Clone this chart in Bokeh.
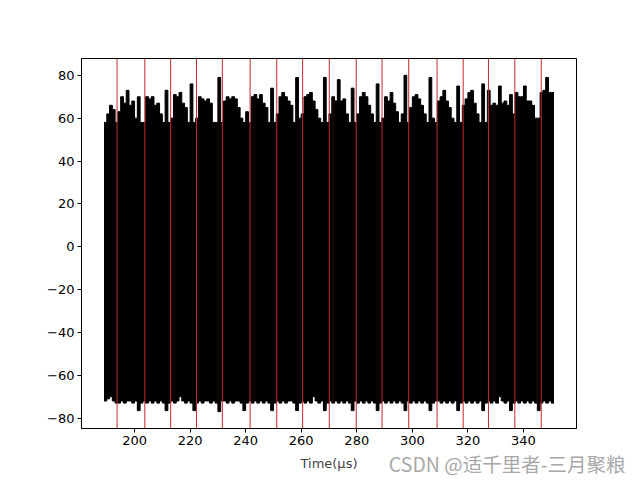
from bokeh.plotting import figure
from bokeh.models import Span, Title, Range1d, FixedTicker
from bokeh.embed import file_html
from bokeh.resources import INLINE

# ---- data ----
# time bins (µs), 1 µs apart, centre values
t_start = 189.5
upper = [58, 62, 66, 64, 58,
         63, 70, 67, 73, 66, 68, 60, 70, 58, 58,
         70, 69, 70, 66, 67, 62, 58, 73, 58,
         60, 71, 70, 72, 67, 65, 58, 76, 58,
         60, 70, 69, 68, 69, 67, 58, 58, 79, 58,
         68, 70, 69, 70, 69, 65, 60, 58, 63, 58,
         70, 71, 69, 71, 67, 65, 58, 74, 58,
         62, 70, 72, 70, 68, 66, 58, 79, 60,
         62, 70, 71, 72, 68, 64, 60, 58, 79, 58,
         62, 70, 68, 78, 68, 69, 62, 58, 74, 58,
         62, 70, 72, 70, 66, 62, 58, 76, 58,
         60, 70, 68, 72, 67, 63, 58, 62, 80, 58,
         65, 70, 71, 69, 66, 62, 58, 79, 60, 58,
         68, 70, 73, 68, 65, 60, 58, 75, 58,
         66, 69, 72, 73, 67, 62, 58, 76, 58,
         73, 66, 67, 66, 75, 67, 68, 66, 71, 62,
         72, 70, 70, 75, 68, 68, 66, 60, 60,
         72, 73, 79, 72, 72]
lower = [-72, -71, -70, -72, -73,
         -73, -72, -73, -72, -72, -73, -72, -76.5, -73, -72,
         -73, -72, -73, -72, -73, -72, -73, -76.5, -73,
         -72, -73, -72, -70, -72, -73, -72, -73, -76.5,
         -73, -72, -73, -72, -72, -73, -72, -73, -77, -72,
         -72, -73, -72, -73, -72, -72, -73, -76.5, -73, -72,
         -73, -72, -73, -72, -73, -72, -73, -76.5, -73,
         -72, -73, -72, -73, -72, -72, -73, -76.5, -73,
         -72, -73, -72, -73, -70, -72, -73, -72, -76.5, -73,
         -72, -73, -72, -73, -72, -73, -72, -73, -76.5, -72,
         -73, -72, -73, -72, -73, -72, -73, -76.5, -73,
         -72, -73, -72, -73, -72, -73, -72, -73, -76.5, -72,
         -73, -72, -73, -72, -73, -72, -73, -76.5, -73, -72,
         -72, -73, -72, -73, -72, -73, -72, -76.5, -73,
         -72, -73, -72, -73, -72, -73, -72, -76.5, -73,
         -72, -73, -72, -73, -70, -72, -73, -72, -76.5, -73,
         -72, -73, -72, -73, -72, -73, -72, -73, -76.5,
         -73, -72, -73, -72, -73]
times = [t_start + i for i in range(len(upper))]
assert len(upper) == len(lower)

red_lines = [193.7, 203.7, 213.0, 222.3, 231.6, 241.6, 251.2, 260.5, 270.1,
             279.8, 289.1, 298.7, 308.9, 318.3, 327.4, 336.9, 346.4]

x_ticks = [200, 220, 240, 260, 280, 300, 320, 340]
y_ticks = [-80, -60, -40, -20, 0, 20, 40, 60, 80]

# stepped envelope built from the bins
sx, s_hi, s_lo = [], [], []
for t, hi, lo in zip(times, upper, lower):
    sx += [t - 0.5, t + 0.5]
    s_hi += [hi, hi]
    s_lo += [lo, lo]

# ---- figure ----
xmin, xmax = times[0] - 0.5, times[-1] + 0.5
ymin, ymax = min(lower), max(upper)
xpad = 0.05 * (xmax - xmin)
ypad = 0.05 * (ymax - ymin)

p = figure(frame_width=495, frame_height=370, output_backend="svg",
           toolbar_location=None,
           x_range=Range1d(xmin - xpad, xmax + xpad),
           y_range=Range1d(ymin - ypad, ymax + ypad),
           min_border_left=81, min_border_right=64,
           min_border_top=58, min_border_bottom=52)
p.background_fill_color = "white"
p.border_fill_color = "white"
p.grid.visible = False
p.outline_line_color = "black"
p.outline_line_width = 1
p.outline_line_alpha = 1

p.varea(x=sx, y1=s_lo, y2=s_hi, fill_color="black")
p.line(x=sx, y=s_hi, line_color="black", line_width=1)
p.line(x=sx, y=s_lo, line_color="black", line_width=1)

for xl in red_lines:
    p.add_layout(Span(location=xl, dimension="height", line_color="#c02a2a",
                      line_width=1))

for ax in (p.xaxis[0], p.yaxis[0]):
    ax.major_tick_out = 4
    ax.major_tick_in = 0
    ax.minor_tick_line_color = None
    ax.axis_line_color = "black"
    ax.major_tick_line_color = "black"
    ax.major_label_text_font = "DejaVu Sans"
    ax.major_label_text_font_size = "13px"
    ax.major_label_text_color = "black"
    ax.major_label_standoff = 3

p.xaxis.ticker = FixedTicker(ticks=x_ticks)
p.yaxis.ticker = FixedTicker(ticks=y_ticks)
p.yaxis.major_label_overrides = {v: (("\u2212" + str(-v)) if v < 0 else str(v)) for v in y_ticks}
p.xaxis.axis_label = "Time(μs)"
p.xaxis.axis_label_text_font = "DejaVu Sans"
p.xaxis.axis_label_text_font_size = "13px"
p.xaxis.axis_label_text_font_style = "normal"
p.xaxis.axis_label_standoff = 8

p.add_layout(Title(text="CSDN @适千里者-三月聚粮", align="right",
                   vertical_align="top",
                   text_font="Noto Sans CJK SC", text_font_size="19.5px",
                   text_font_style="normal", text_color="#a8a8a8",
                   standoff=-50, offset=-49), "below")

open("out.html", "w").write(file_html(p, INLINE))
